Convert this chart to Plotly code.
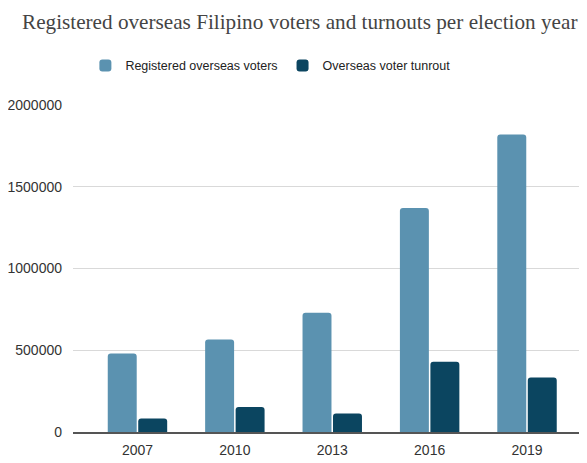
import plotly.graph_objects as go

years = ["2007", "2010", "2013", "2016", "2019"]
registered = [480000, 566000, 730000, 1370000, 1820000]
turnout = [82000, 153000, 113000, 430000, 334000]
y_ticks = [0, 500000, 1000000, 1500000, 2000000]
y_tick_labels = ["0", "500000", "1000000", "1500000", "2000000"]

fig = go.Figure()
fig.add_trace(go.Bar(x=years, y=registered, name="Registered overseas voters",
                     marker=dict(color="#5b92b0", cornerradius=3, line=dict(width=0))))
fig.add_trace(go.Bar(x=years, y=turnout, name="Overseas voter tunrout",
                     marker=dict(color="#0b4560", cornerradius=3, line=dict(width=0))))

# page body has an 8px offset; margins compensate for it
fig.update_layout(
    width=587, height=463,
    paper_bgcolor="white", plot_bgcolor="white",
    margin=dict(l=65, r=0, t=97, b=39, autoexpand=False),
    barmode="group", bargap=0.374, bargroupgap=0.05,
    title=dict(text="Registered overseas Filipino voters and turnouts per election year",
               x=0.497, xanchor="center", y=0.970, yanchor="middle",
               font=dict(family="Liberation Serif", size=21.2, color="#444444")),
    legend=dict(orientation="h", xref="container", yref="container",
                x=0.447, xanchor="center", y=0.875, yanchor="middle",
                font=dict(family="Liberation Sans", size=12.5, color="#222222"),
                itemwidth=30, traceorder="normal"),
    showlegend=True,
)
fig.update_xaxes(type="category", range=[-0.662, 4.698], showgrid=False,
                 showline=True, linecolor="#555555", linewidth=1.5,
                 ticks="", ticklabelstandoff=4, automargin=False,
                 tickfont=dict(family="Liberation Sans", size=14, color="#333333"))
fig.update_yaxes(range=[0, 2000000], tickvals=y_ticks, ticktext=y_tick_labels,
                 showgrid=True, gridcolor="#d9d9d9", gridwidth=1, zeroline=False,
                 ticks="", ticklabelstandoff=10, automargin=False,
                 tickfont=dict(family="Liberation Sans", size=14, color="#333333"))

fig.write_html("out.html")
